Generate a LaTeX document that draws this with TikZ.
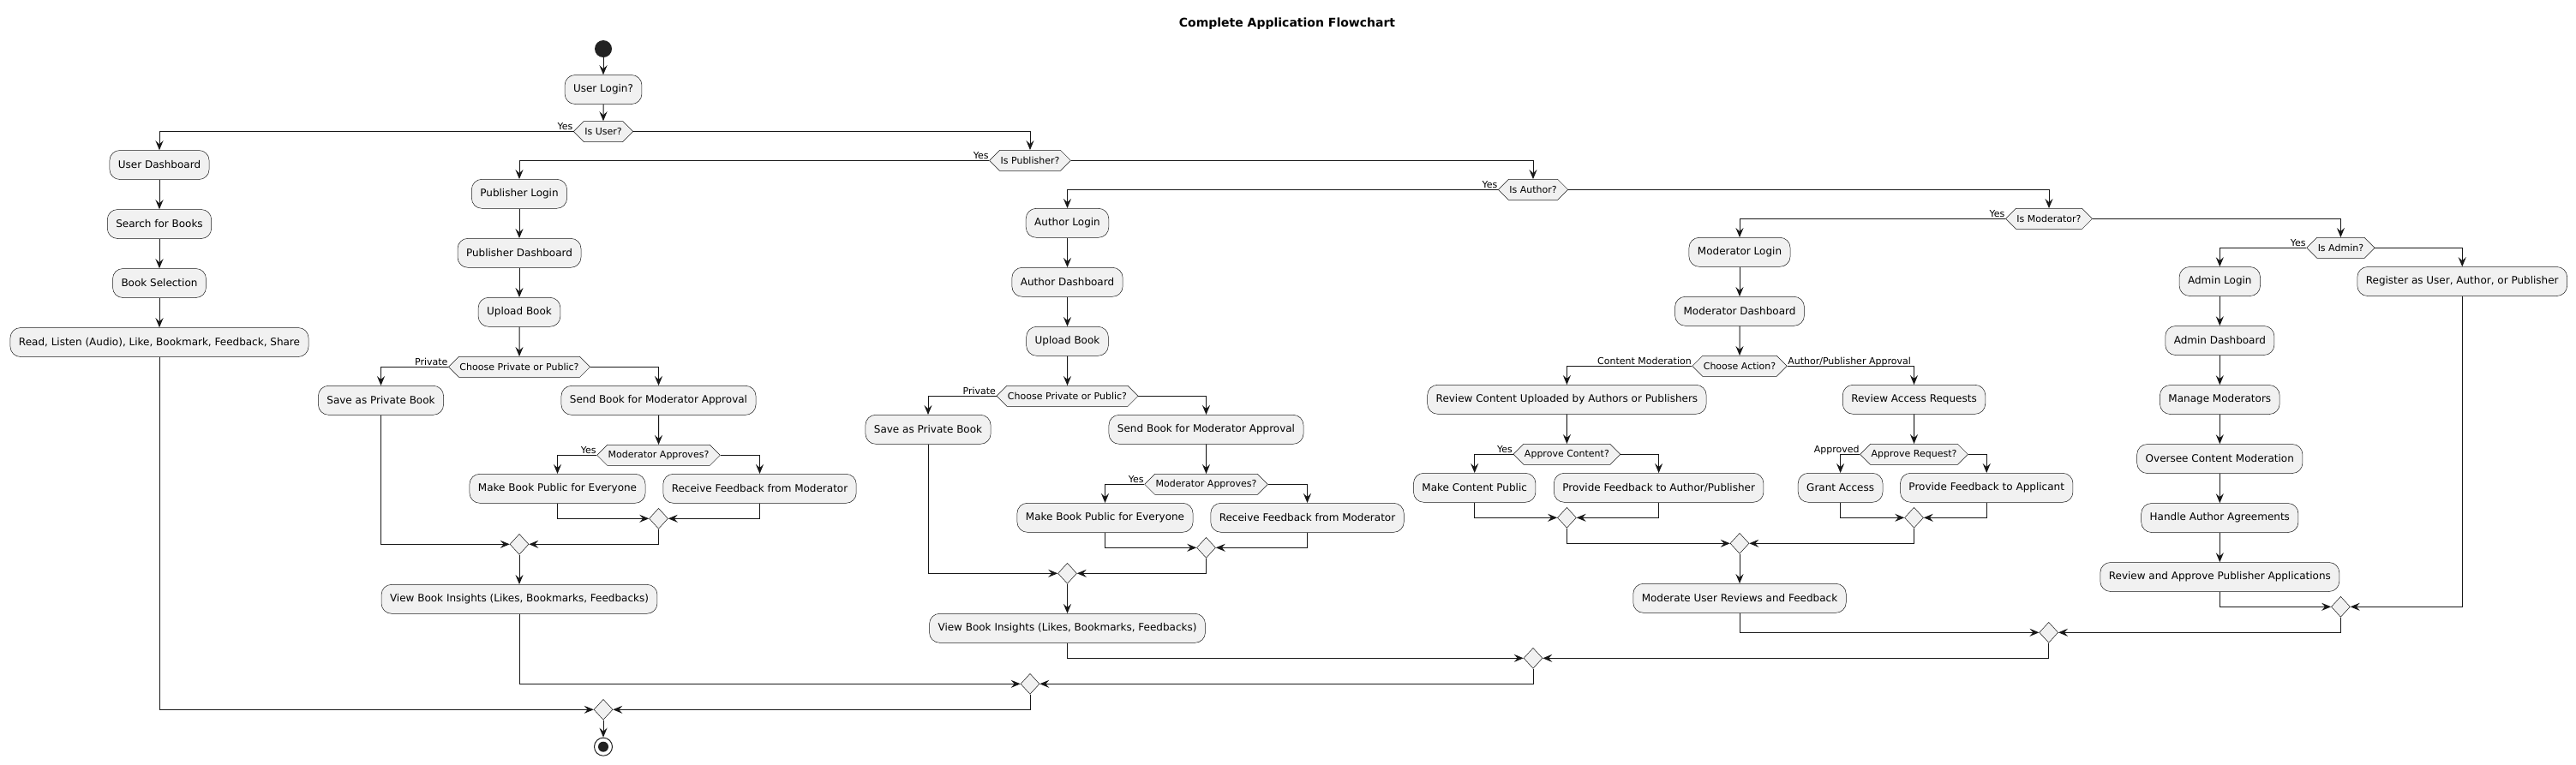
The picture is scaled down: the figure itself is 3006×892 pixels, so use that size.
\documentclass[tikz,border=0pt]{standalone}
\usepackage{fontspec}
\setmainfont{DejaVu Sans}
\usetikzlibrary{arrows.meta,shapes.geometric,shapes.symbols}
\definecolor{bx}{HTML}{F1F1F1}
\definecolor{lc}{HTML}{181818}
\definecolor{dk}{HTML}{222222}
\begin{document}
\begin{tikzpicture}[x=1pt,y=-1pt,
 act/.style={draw=lc, line width=0.5pt, fill=bx, rounded corners=12pt, minimum height=34pt, inner xsep=10pt, inner ysep=0pt, font=\fontsize{12}{14}\selectfont},
 dec/.style={signal, signal to=east and west, draw=lc, line width=0.5pt, fill=bx, minimum height=24pt, inner xsep=1pt, inner ysep=0pt, font=\fontsize{11}{13}\selectfont},
 mrg/.style={diamond, draw=lc, line width=0.5pt, fill=bx, minimum width=22pt, minimum height=24pt, inner sep=0pt},
 lbl/.style={font=\fontsize{11}{13}\selectfont, inner xsep=0.5pt, inner ysep=0pt},
 arr/.style={draw=lc, line width=1pt, -{Stealth[length=11pt,width=9pt,inset=4pt]}},
 ]
\useasboundingbox (0,0) rectangle (3006,892);

\node[font=\fontsize{14}{16}\selectfont\bfseries] (title) at (1502,28) {Complete Application Flowchart};

% start
\node[circle, fill=dk, minimum size=20pt, inner sep=0pt] (start) at (704,57) {};
\node[act] (ulogin) at (704,104.5) {User Login?};
\node[dec] (isuser) at (704,153.5) {Is User?};

% user
\node[act] (udash) at (186,192.5) {User Dashboard};
\node[act] (usearch) at (186,261.5) {Search for Books};
\node[act] (usel) at (186,330.5) {Book Selection};
\node[act] (uread) at (186,399.5) {Read, Listen (Audio), Like, Bookmark, Feedback, Share};

% publisher
\node[dec] (ispub) at (1202,187.3) {Is Publisher?};
\node[act] (plogin) at (606,226.3) {Publisher Login};
\node[act] (pdash) at (606,295.3) {Publisher Dashboard};
\node[act] (pup) at (606,364.3) {Upload Book};
\node[dec] (pchoose) at (606,428.3) {Choose Private or Public?};
\node[act] (ppriv) at (444.5,467.3) {Save as Private Book};
\node[act] (psend) at (768.5,467.3) {Send Book for Moderator Approval};
\node[dec] (pmod) at (768.5,531.3) {Moderator Approves?};
\node[act] (ppublic) at (650.5,570.3) {Make Book Public for Everyone};
\node[act] (pfb) at (886.5,570.3) {Receive Feedback from Moderator};
\node[mrg] (pm1) at (768.5,605.3) {};
\node[mrg] (pm2) at (606,635.3) {};
\node[act] (pins) at (606,699.3) {View Book Insights (Likes, Bookmarks, Feedbacks)};

% author
\node[dec] (isauth) at (1789,221.3) {Is Author?};
\node[act] (alogin) at (1245.5,260.3) {Author Login};
\node[act] (adash) at (1245.5,329.3) {Author Dashboard};
\node[act] (aup) at (1245.5,398.3) {Upload Book};
\node[dec] (achoose) at (1245.5,462.3) {Choose Private or Public?};
\node[act] (apriv) at (1083,501.3) {Save as Private Book};
\node[act] (asend) at (1407.5,501.3) {Send Book for Moderator Approval};
\node[dec] (amod) at (1407.5,565.3) {Moderator Approves?};
\node[act] (apublic) at (1289.5,604.3) {Make Book Public for Everyone};
\node[act] (afb) at (1525.5,604.3) {Receive Feedback from Moderator};
\node[mrg] (am1) at (1407.5,639.3) {};
\node[mrg] (am2) at (1245.5,669.3) {};
\node[act] (ains) at (1245.5,733.3) {View Book Insights (Likes, Bookmarks, Feedbacks)};

% moderator
\node[dec] (ismod) at (2391,255.3) {Is Moderator?};
\node[act] (mlogin) at (2030,294.3) {Moderator Login};
\node[act] (mdash) at (2030,363.3) {Moderator Dashboard};
\node[dec] (mchoose) at (2030,427.3) {Choose Action?};
\node[act] (mrev) at (1828.4,466.3) {Review Content Uploaded by Authors or Publishers};
\node[act] (macc) at (2233.5,466.3) {Review Access Requests};
\node[dec] (mappc) at (1828.4,530.3) {Approve Content?};
\node[dec] (mappr) at (2233.5,530.3) {Approve Request?};
\node[act] (mpub) at (1720.7,569.3) {Make Content Public};
\node[act] (mfb1) at (1935.6,569.3) {Provide Feedback to Author/Publisher};
\node[act] (mgrant) at (2147.6,569.3) {Grant Access};
\node[act] (mfb2) at (2318.2,569.3) {Provide Feedback to Applicant};
\node[mrg] (mm1) at (1828.4,604.3) {};
\node[mrg] (mm2) at (2233.5,604.3) {};
\node[mrg] (mm3) at (2030,634.3) {};
\node[act] (mmod) at (2030,698.3) {Moderate User Reviews and Feedback};

% admin
\node[dec] (isadmin) at (2731.4,289.3) {Is Admin?};
\node[act] (adlogin) at (2590.3,328.5) {Admin Login};
\node[act] (reg) at (2873.2,328.5) {Register as User, Author, or Publisher};
\node[act] (addash) at (2590.3,397.5) {Admin Dashboard};
\node[act] (admm) at (2590.3,466.5) {Manage Moderators};
\node[act] (adov) at (2590.3,535.5) {Oversee Content Moderation};
\node[act] (adha) at (2590.3,604.5) {Handle Author Agreements};
\node[act] (adrev) at (2590.3,673.5) {Review and Approve Publisher Applications};
\node[mrg] (adm) at (2731.4,708.3) {};

% outer merges
\node[mrg] (m3) at (2390.7,738.3) {};
\node[mrg] (m2) at (1789,768.3) {};
\node[mrg] (m1) at (1202,798.3) {};
\node[mrg] (fin) at (704,828.3) {};
\node[circle, draw=dk, line width=1pt, fill=white, minimum size=21pt, inner sep=0pt,
  path picture={\fill[dk] (path picture bounding box.center) circle (6pt);}] (stop) at (704,871.7) {};

% labels
\node[lbl, anchor=base east, yshift=2pt] (l1) at (isuser.west) {Yes};
\node[lbl, anchor=base east, yshift=2pt] (l2) at (ispub.west) {Yes};
\node[lbl, anchor=base east, yshift=2pt] (l3) at (isauth.west) {Yes};
\node[lbl, anchor=base east, yshift=2pt] (l4) at (ismod.west) {Yes};
\node[lbl, anchor=base east, yshift=2pt] (l5) at (isadmin.west) {Yes};
\node[lbl, anchor=base east, yshift=2pt] (l6) at (pchoose.west) {Private};
\node[lbl, anchor=base east, yshift=2pt] (l7) at (pmod.west) {Yes};
\node[lbl, anchor=base east, yshift=2pt] (l8) at (achoose.west) {Private};
\node[lbl, anchor=base east, yshift=2pt] (l9) at (amod.west) {Yes};
\node[lbl, anchor=base east, yshift=2pt] (l10) at (mchoose.west) {Content Moderation};
\node[lbl, anchor=base west, yshift=2pt] (l11) at (mchoose.east) {Author/Publisher Approval};
\node[lbl, anchor=base east, yshift=2pt] (l12) at (mappc.west) {Yes};
\node[lbl, anchor=base east, yshift=2pt] (l13) at (mappr.west) {Approved};

% connectors: top
\draw[arr] (start) -- (ulogin);
\draw[arr] (ulogin) -- (isuser);
\draw[arr] (isuser.west) -| (udash.north);
\draw[arr] (isuser.east) -| (ispub.north);
\draw[arr] (udash) -- (usearch);
\draw[arr] (usearch) -- (usel);
\draw[arr] (usel) -- (uread);

% publisher
\draw[arr] (ispub.west) -| (plogin.north);
\draw[arr] (ispub.east) -| (isauth.north);
\draw[arr] (plogin) -- (pdash);
\draw[arr] (pdash) -- (pup);
\draw[arr] (pup) -- (pchoose);
\draw[arr] (pchoose.west) -| (ppriv.north);
\draw[arr] (pchoose.east) -| (psend.north);
\draw[arr] (psend) -- (pmod);
\draw[arr] (pmod.west) -| (ppublic.north);
\draw[arr] (pmod.east) -| (pfb.north);
\draw[arr] (ppublic.south) |- (pm1.west);
\draw[arr] (pfb.south) |- (pm1.east);
\draw[arr] (ppriv.south) |- (pm2.west);
\draw[arr] (pm1.south) |- (pm2.east);
\draw[arr] (pm2) -- (pins);

% author
\draw[arr] (isauth.west) -| (alogin.north);
\draw[arr] (isauth.east) -| (ismod.north);
\draw[arr] (alogin) -- (adash);
\draw[arr] (adash) -- (aup);
\draw[arr] (aup) -- (achoose);
\draw[arr] (achoose.west) -| (apriv.north);
\draw[arr] (achoose.east) -| (asend.north);
\draw[arr] (asend) -- (amod);
\draw[arr] (amod.west) -| (apublic.north);
\draw[arr] (amod.east) -| (afb.north);
\draw[arr] (apublic.south) |- (am1.west);
\draw[arr] (afb.south) |- (am1.east);
\draw[arr] (apriv.south) |- (am2.west);
\draw[arr] (am1.south) |- (am2.east);
\draw[arr] (am2) -- (ains);

% moderator
\draw[arr] (ismod.west) -| (mlogin.north);
\draw[arr] (ismod.east) -| (isadmin.north);
\draw[arr] (mlogin) -- (mdash);
\draw[arr] (mdash) -- (mchoose);
\draw[arr] (mchoose.west) -| (mrev.north);
\draw[arr] (mchoose.east) -| (macc.north);
\draw[arr] (mrev) -- (mappc);
\draw[arr] (macc) -- (mappr);
\draw[arr] (mappc.west) -| (mpub.north);
\draw[arr] (mappc.east) -| (mfb1.north);
\draw[arr] (mappr.west) -| (mgrant.north);
\draw[arr] (mappr.east) -| (mfb2.north);
\draw[arr] (mpub.south) |- (mm1.west);
\draw[arr] (mfb1.south) |- (mm1.east);
\draw[arr] (mgrant.south) |- (mm2.west);
\draw[arr] (mfb2.south) |- (mm2.east);
\draw[arr] (mm1.south) |- (mm3.west);
\draw[arr] (mm2.south) |- (mm3.east);
\draw[arr] (mm3) -- (mmod);

% admin
\draw[arr] (isadmin.west) -| (adlogin.north);
\draw[arr] (isadmin.east) -| (reg.north);
\draw[arr] (adlogin) -- (addash);
\draw[arr] (addash) -- (admm);
\draw[arr] (admm) -- (adov);
\draw[arr] (adov) -- (adha);
\draw[arr] (adha) -- (adrev);
\draw[arr] (adrev.south) |- (adm.west);
\draw[arr] (reg.south) |- (adm.east);

% outer merges
\draw[arr] (mmod.south) |- (m3.west);
\draw[arr] (adm.south) |- (m3.east);
\draw[arr] (ains.south) |- (m2.west);
\draw[arr] (m3.south) |- (m2.east);
\draw[arr] (pins.south) |- (m1.west);
\draw[arr] (m2.south) |- (m1.east);
\draw[arr] (uread.south) |- (fin.west);
\draw[arr] (m1.south) |- (fin.east);
\draw[arr] (fin) -- (stop);
\end{tikzpicture}
\end{document}
